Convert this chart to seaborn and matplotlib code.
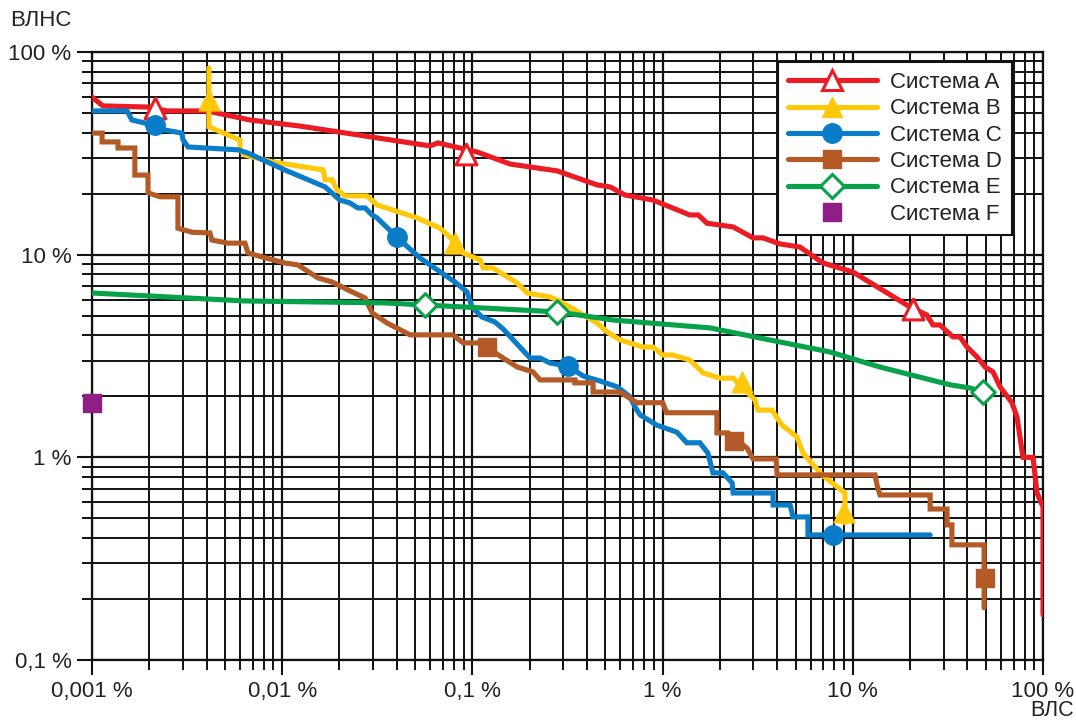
import numpy as np
import pandas as pd
import matplotlib
matplotlib.use("Agg")
import matplotlib.pyplot as plt
import seaborn as sns
from matplotlib.lines import Line2D
from matplotlib.ticker import FixedLocator, FixedFormatter, LogLocator, NullFormatter

# ---------------- data (values in %) ----------------
a_x = [0.001, 0.00114, 0.00197, 0.00248, 0.00402, 0.00677, 0.0124, 0.0347, 0.0599, 0.0659, 0.106,
       0.158, 0.279, 0.452, 0.529, 0.634, 0.890, 1.39, 1.54, 1.71, 2.35, 2.99, 3.37, 4.14, 5.28, 6.97,
       10.0, 20.0, 24.5, 26.4, 28.7, 33.6, 36.6, 39.9, 45.0, 49.6, 54.6, 59.4, 68.7, 73.0, 78.5, 88.6,
       93.0, 100, 100]
a_y = [60.0, 54.2, 53.5, 51.2, 51.2, 46.2, 43.1, 37.2, 34.4, 35.6, 32.1, 28.0, 25.9, 22.1, 21.6, 19.7,
       18.6, 15.7, 15.7, 14.3, 13.7, 12.1, 12.1, 11.3, 10.9, 9.10, 8.22, 5.52, 5.04, 4.50, 4.50, 3.93,
       3.93, 3.50, 3.13, 2.79, 2.64, 2.23, 1.86, 1.58, 1.00, 1.00, 0.667, 0.569, 0.167]
a_mx = [0.00214, 0.0926, 20.7]
a_my = [52.9, 31.4, 5.40]

b_x = [0.00412, 0.00412, 0.00600, 0.00600, 0.00637, 0.00884, 0.0164, 0.0168, 0.0183, 0.0194, 0.0214,
       0.0279, 0.0315, 0.0511, 0.0676, 0.0763, 0.0893, 0.110, 0.114, 0.128, 0.172, 0.194, 0.256, 0.279,
       0.368, 0.452, 0.510, 0.597, 0.789, 0.890, 1.00, 1.13, 1.39, 1.63, 2.00, 2.35, 3.06, 3.17, 3.76,
       4.25, 5.09, 5.47, 6.89, 9.10, 9.10]
b_y = [83.4, 42.7, 36.8, 32.9, 31.0, 28.7, 26.2, 23.4, 23.4, 20.9, 19.5, 19.5, 17.6, 15.2, 13.5, 12.2,
       10.2, 9.41, 8.60, 8.60, 7.25, 6.47, 6.18, 5.98, 5.16, 4.60, 4.16, 3.80, 3.50, 3.50, 3.20, 3.20,
       3.02, 2.61, 2.46, 2.46, 1.92, 1.71, 1.71, 1.44, 1.26, 1.05, 0.819, 0.667, 0.475]
b_mx = [0.00412, 0.0810, 2.62, 8.99]
b_my = [58.0, 11.4, 2.36, 0.538]

c_x = [0.001, 0.00153, 0.00162, 0.00190, 0.00242, 0.00297, 0.00301, 0.00320, 0.00586, 0.00661, 0.0103,
       0.0168, 0.0201, 0.0227, 0.0250, 0.0273, 0.0297, 0.0315, 0.0401, 0.0530, 0.0810, 0.0937, 0.0995,
       0.112, 0.131, 0.145, 0.201, 0.227, 0.256, 0.318, 0.382, 0.469, 0.576, 0.674, 0.716, 0.761, 0.935,
       1.19, 1.34, 1.57, 1.73, 1.84, 2.08, 2.32, 2.35, 3.81, 3.81, 4.68, 4.85, 5.81, 5.81, 25.5]
c_y = [51.2, 51.2, 46.2, 44.6, 41.2, 39.8, 36.8, 34.0, 32.9, 31.7, 26.2, 21.6, 18.6, 18.0, 17.0, 17.0,
       15.7, 15.2, 12.2, 9.63, 7.33, 6.55, 5.52, 4.93, 4.66, 4.30, 3.09, 3.09, 2.92, 2.82, 2.52, 2.38,
       2.23, 1.99, 1.77, 1.62, 1.44, 1.33, 1.18, 1.18, 1.05, 0.838, 0.838, 0.748, 0.667, 0.667, 0.582,
       0.582, 0.508, 0.508, 0.414, 0.414]
c_mx = [0.00214, 0.0401, 0.318, 7.87]
c_my = [43.6, 12.2, 2.82, 0.414]

d_x = [0.001, 0.00113, 0.00113, 0.00137, 0.00137, 0.00168, 0.00168, 0.00197, 0.00197, 0.00228, 0.00283,
       0.00283, 0.00336, 0.00417, 0.00427, 0.00519, 0.00637, 0.00661, 0.00783, 0.0103, 0.0121, 0.0154,
       0.0183, 0.0233, 0.0273, 0.0297, 0.0356, 0.0470, 0.0791, 0.0893, 0.110, 0.145, 0.172, 0.208, 0.227,
       0.346, 0.346, 0.431, 0.431, 0.597, 0.733, 1.00, 1.05, 1.93, 1.93, 2.21, 2.78, 2.99, 3.95, 4.00,
       13.1, 13.4, 13.9, 25.5, 25.5, 31.3, 31.3, 33.2, 33.2, 49.0, 49.0]
d_y = [39.8, 39.8, 36.0, 36.0, 33.6, 33.6, 24.7, 24.7, 20.2, 19.3, 19.3, 13.5, 12.9, 12.8, 11.8, 11.4,
       11.4, 10.2, 9.74, 9.10, 8.90, 7.68, 7.33, 6.55, 6.11, 5.16, 4.60, 4.02, 4.02, 3.67, 3.67, 3.09,
       2.79, 2.64, 2.41, 2.41, 2.33, 2.33, 2.10, 2.10, 1.86, 1.86, 1.66, 1.66, 1.32, 1.32, 1.11, 0.982,
       0.982, 0.819, 0.819, 0.731, 0.652, 0.652, 0.556, 0.556, 0.464, 0.464, 0.370, 0.370, 0.181]
d_mx = [0.119, 2.37, 49.3]
d_my = [3.50, 1.205, 0.254]

e_x = [0.001, 0.00637, 0.0347, 0.0893, 0.279, 0.549, 1.78, 3.25, 7.59, 13.9, 32.4, 41.3, 48.4]
e_y = [6.47, 5.91, 5.78, 5.52, 5.22, 4.76, 4.35, 3.88, 3.31, 2.79, 2.28, 2.20, 2.10]
e_mx = [0.0563, 0.279, 48.4]
e_my = [5.65, 5.22, 2.10]

f_mx = [0.001]
f_my = [1.86]

labels = ["Система A", "Система B", "Система C", "Система D", "Система E", "Система F"]
x_ticks = [0.001, 0.01, 0.1, 1, 10, 100]
x_tick_labels = ["0,001 %", "0,01 %", "0,1 %", "1 %", "10 %", "100 %"]
y_ticks = [0.1, 1, 10, 100]
y_tick_labels = ["0,1 %", "1 %", "10 %", "100 %"]
y_title = "ВЛНС"
x_title = "ВЛС"

# ---------------- style ----------------
RED, YEL, BLU, BRN, GRN, PUR = "#EC1C24", "#FFC80A", "#0A7CC8", "#B35A26", "#08A24B", "#8E1F85"
sns.set_theme(style="white")
plt.rcParams['font.family'] = ['Liberation Sans', 'DejaVu Sans']

W, H = 1076, 722
fig = plt.figure(figsize=(W / 100, H / 100), dpi=100)
ax = fig.add_axes([92 / W, 1 - 660 / H, (1043 - 92) / W, (660 - 52) / H])
ax.set_xscale('log')
ax.set_yscale('log')

LW = 3.7
series = [
    (a_x, a_y, RED), (b_x, b_y, YEL), (c_x, c_y, BLU), (d_x, d_y, BRN), (e_x, e_y, GRN),
]
for i, (xs, ys, col) in enumerate(series):
    sns.lineplot(x=xs, y=ys, sort=False, estimator=None, color=col, lw=LW,
                 ax=ax, zorder=3 + i, solid_joinstyle='miter')

markers = [
    (a_mx, a_my, '^', 'white', RED, 15, 2.2),
    (b_mx, b_my, '^', YEL, YEL, 15, 1.0),
    (c_mx, c_my, 'o', BLU, BLU, 14, 1.0),
    (d_mx, d_my, 's', BRN, BRN, 13.5, 1.0),
    (e_mx, e_my, 'D', 'white', GRN, 12, 2.2),
    (f_mx, f_my, 's', PUR, PUR, 13.5, 1.0),
]
for i, (mx, my, m, fc, ec, ms, mew) in enumerate(markers):
    sns.scatterplot(x=mx, y=my, marker=m, s=ms ** 2, color=fc, edgecolor=ec,
                    linewidth=mew, ax=ax, zorder=10 + i, clip_on=False)

ax.set_xlim(0.001, 100)
ax.set_ylim(0.1, 100)

# ticks and grid
ax.xaxis.set_major_locator(FixedLocator(x_ticks))
ax.xaxis.set_major_formatter(FixedFormatter(x_tick_labels))
ax.yaxis.set_major_locator(FixedLocator(y_ticks))
ax.yaxis.set_major_formatter(FixedFormatter(y_tick_labels))
for axis in (ax.xaxis, ax.yaxis):
    axis.set_minor_locator(LogLocator(base=10, subs=np.arange(2, 10), numticks=30))
    axis.set_minor_formatter(NullFormatter())
ax.tick_params(which='major', direction='out', length=10.8, width=1.5, color='#111111',
               labelsize=16, labelcolor='#222222', pad=4, bottom=True, left=True)
ax.tick_params(axis='x', which='major', pad=4)
ax.tick_params(which='minor', direction='out', length=7.2, width=1.4, color='#111111',
               bottom=True, left=True)
ax.grid(True, which='major', color='#111111', lw=1.6)
ax.grid(True, which='minor', color='#111111', lw=1.4)
ax.set_axisbelow(True)
for sp in ax.spines.values():
    sp.set_color('#111111')
    sp.set_linewidth(1.6)
ax.set_xlabel("")
ax.set_ylabel("")

# legend
cols = [RED, YEL, BLU, BRN, GRN, PUR]
handles = []
for (mx, my, m, fc, ec, ms, mew), col, lab in zip(markers, cols, labels):
    if lab.endswith("F"):
        handles.append(Line2D([], [], ls='none', marker=m, markersize=ms, markerfacecolor=fc,
                              markeredgecolor=ec, markeredgewidth=mew))
    else:
        handles.append(Line2D([], [], color=col, lw=LW, marker=m, markersize=ms, markerfacecolor=fc,
                              markeredgecolor=ec, markeredgewidth=mew))
leg = ax.legend(handles, labels, loc='upper right', bbox_to_anchor=(1012 / W, 1 - 62 / H),
                bbox_transform=fig.transFigure, frameon=True, fancybox=False, edgecolor='#111111',
                framealpha=1, facecolor='white', fontsize=16, handlelength=4.0, handletextpad=0.6,
                labelspacing=0.24, borderpad=0.45, borderaxespad=0)
leg.get_frame().set_linewidth(1.5)
leg.set_zorder(30)
for t in leg.get_texts():
    t.set_color('#222222')

fig.text(10 / W, 1 - 20 / H, y_title, ha='left', va='center', fontsize=16, color='#222222')
fig.text(1074 / W, 1.0 / H, x_title, ha='right', va='bottom', fontsize=15.5, color='#222222')

fig.savefig("out.png", dpi=100)
